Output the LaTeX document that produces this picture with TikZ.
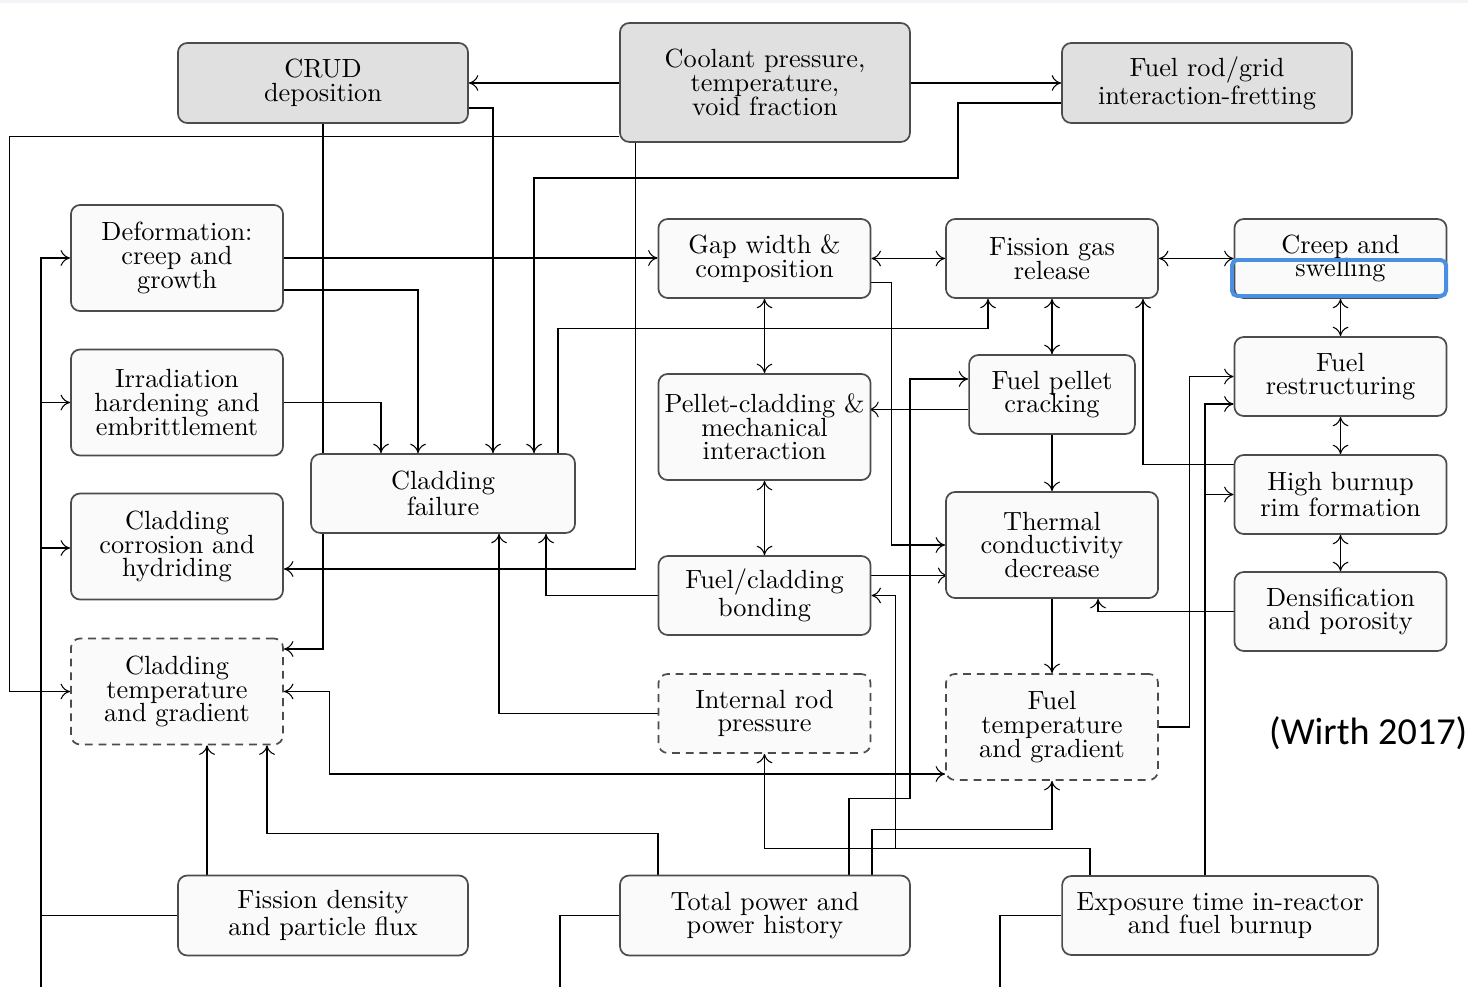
\documentclass[tikz,border=0pt]{standalone}
\usepackage{fontspec}
\usepackage{xcolor}
\usepackage{tikz}
\usetikzlibrary{arrows.meta, positioning, calc, backgrounds}
\newfontfamily\notefont{Carlito}
\definecolor{boxgray}{RGB}{224,224,224}
\definecolor{boxwhite}{RGB}{250,250,250}
\definecolor{markblue}{RGB}{74,144,226}
\definecolor{bandgray}{RGB}{242,244,247}

\begin{document}
\begin{tikzpicture}[
    x=0.38pt, y=-0.38pt,
    line width=0.65pt,
    >={To[length=3.6pt,width=6pt]},
    block/.style={draw=black!70, fill=boxwhite, rounded corners=3.5pt, align=center, inner sep=1pt,
        font=\fontsize{10}{9}\selectfont, minimum width=80.6pt, minimum height=30pt},
    tallblock/.style={block, minimum height=40.3pt},
    wideblock/.style={block, minimum width=110.2pt, minimum height=30.4pt},
    shaded/.style={fill=boxgray},
    derived/.style={dash pattern=on 3pt off 2.2pt}
]
    \useasboundingbox (0,0) rectangle (1468,987);
    \fill[bandgray] (0,0) rectangle (1468,3);

    % Operating conditions (top row)
    \node[wideblock, shaded] (crud) at (323,83) {CRUD\\deposition};
    \node[wideblock, shaded, minimum height=45.2pt] (coolant) at (765,82.5) {Coolant pressure,\\temperature,\\void fraction};
    \node[wideblock, shaded] (fret) at (1207,83) {Fuel rod/grid\\interaction-fretting};

    % Cladding side
    \node[tallblock] (deform) at (177,258) {Deformation:\\creep and\\growth};
    \node[tallblock] (irrad) at (177,402.5) {Irradiation\\hardening and\\embrittlement};
    \node[tallblock] (corr) at (177,546.5) {Cladding\\corrosion and\\hydriding};
    \node[tallblock, derived] (ctemp) at (177,691.5) {Cladding\\temperature\\and gradient};
    \node[block, minimum width=100.3pt] (fail) at (443,493.5) {Cladding\\failure};

    % Gap
    \node[block] (gap) at (764.5,258.5) {Gap width \&\\composition};
    \node[tallblock] (pci) at (764.5,427) {Pellet-cladding \&\\mechanical\\interaction};
    \node[block] (bond) at (764.5,595.5) {Fuel/cladding\\bonding};
    \node[block, derived] (irp) at (764.5,713.5) {Internal rod\\pressure};

    % Fuel side
    \node[block] (fgr) at (1052,258.5) {Fission gas\\release};
    \node[block, minimum width=63pt] (crack) at (1052,394.5) {Fuel pellet\\cracking};
    \node[tallblock] (thermal) at (1052,545) {Thermal\\conductivity\\decrease};
    \node[tallblock, derived] (ftemp) at (1052,727) {Fuel\\temperature\\and gradient};

    \node[block] (creep) at (1340.5,258.5) {Creep and\\swelling};
    \node[block] (restr) at (1340.5,376.5) {Fuel\\restructuring};
    \node[block] (rim) at (1340.5,494.5) {High burnup\\rim formation};
    \node[block] (dens) at (1340.5,611.5) {Densification\\and porosity};

    % Drivers (bottom row)
    \node[wideblock] (flux) at (323,915.5) {Fission density\\and particle flux};
    \node[wideblock] (power) at (765,915.5) {Total power and\\power history};
    \node[block, minimum width=120pt] (expo) at (1220,915.5) {Exposure time in-reactor\\and fuel burnup};

    \begin{scope}[on background layer]
        % coolant and CRUD
        \draw[->] (coolant.west |- crud.east) -- (crud.east);
        \draw[->] (coolant.east |- fret.west) -- (fret.west);
        \draw[->] ($(coolant.west)+(0,54)$) -- ++(-610,0) |- (ctemp.west);
        \draw[->] ($(coolant.south west)+(16,0)$) |- ($(corr.east)+(0,22.5)$);
        \draw[->] ($(crud.east)+(0,25)$) -| ($(fail.north)+(50,0)$);
        \draw[->] (crud.south) |- ($(ctemp.east)+(0,-42.5)$);
        \draw[->] ($(fret.west)+(0,20)$) -| (958,178) -| ($(fail.north)+(91,0)$);

        % cladding
        \draw[->] (deform.east) -- (deform.east -| gap.west);
        \draw[->] ($(deform.east)+(0,32)$) -| ($(fail.north)+(-25,0)$);
        \draw[->] (irrad.east) -| ($(fail.north)+(-62,0)$);
        \draw[->] ($(fail.north)+(115,0)$) -- ++(0,-125) -| ($(fgr.south)+(-64,0)$);
        \draw[->] (bond.west) -| ($(fail.south)+(103,0)$);
        \draw[->] (irp.west) -| ($(fail.south)+(56,0)$);

        % fission density
        \draw[->] (flux.west) -| (41,258) -- (deform.west);
        \draw (41,915) -- (41,987);
        \draw[->] ($(irrad.west)+(-30,0)$) -- (irrad.west);
        \draw[->] ($(corr.west)+(-30,1.5)$) -- ($(corr.west)+(0,1.5)$);
        \draw[->] ($(flux.north)+(-116,0)$) -- ($(ctemp.south)+(30,0)$);

        % gap and fuel
        \draw[<->] (gap.east) -- (fgr.west);
        \draw[<->] (fgr.east) -- (creep.west);
        \draw[<->] (gap.south) -- (pci.north);
        \draw[->] ($(gap.east)+(0,24)$) -- ++(20,0) |- (thermal.west);
        \draw[<->] (fgr.south) -- (crack.north);
        \draw[->] ($(rim.west)+(0,-30)$) -| ($(fgr.south)+(91,0)$);
        \draw[->] ($(crack.west)+(0,15)$) -- ++(-99,0);
        \draw[->] (crack.south) -- (thermal.north);
        \draw[<->] (pci.south) -- (bond.north);
        \draw[->] ($(bond.east)+(0,-20)$) -- ++(76,0);
        \draw[->] (thermal.south) -- (ftemp.north);
        \draw[->] (dens.west) -| ($(thermal.south)+(46,0)$);
        \draw[<->] (creep.south) -- (restr.north);
        \draw[<->] (restr.south) -- (rim.north);
        \draw[<->] (rim.south) -- (dens.north);
        \draw[->] (ftemp.east) -- ++(31,0) |- (restr.west);
        \draw[<->] (ctemp.east) -- ++(46,0) |- ($(ftemp.west)+(0,47)$);

        % power history
        \draw[->] ($(power.north)+(-107,0)$) -- ++(0,-41) -| ($(ctemp.south)+(90,0)$);
        \draw[->] ($(power.north)+(84,0)$) -- ++(0,-76) -- ++(61,0) |- ($(crack.west)+(0,-15.5)$);
        \draw[->] ($(power.north)+(107,0)$) -- ++(0,-45) -| (ftemp.south);
        \draw (power.west) -| (560,987);

        % exposure and burnup
        \draw[->] ($(expo.north)+(-130,0)$) -- ++(0,-27) -| (irp.south);
        \draw[->] ($(expo.north)+(-130,0)$) -- ++(0,-27) -| ($(bond.east)+(24,0)$) -- (bond.east);
        \draw[->] ($(expo.north)+(-15,0)$) |- ($(restr.west)+(0,27.5)$);
        \draw[->] ($(expo.north)+(-15,0)$) |- (rim.west);
        \draw (expo.west) -| (1000,987);
    \end{scope}

    % highlight and source
    \draw[markblue, line width=1.5pt, rounded corners=2pt] (1232,260) rectangle (1446,296);
    \node[font=\notefont\fontsize{14.5}{16}\selectfont, anchor=east, inner sep=0pt] (source) at (1468,733) {(Wirth 2017)};
\end{tikzpicture}
\end{document}
